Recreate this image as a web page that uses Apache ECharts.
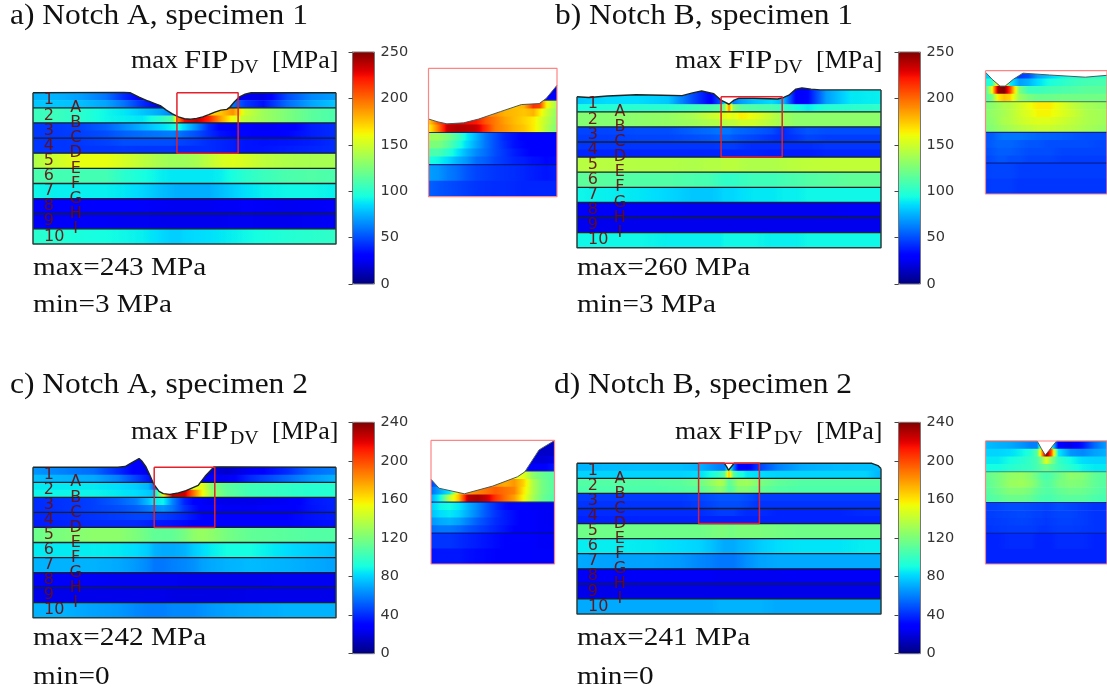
<!DOCTYPE html>
<html><head><meta charset="utf-8">
<style>html,body{margin:0;padding:0;background:#fff}#c{width:1107px;height:693px}</style>
<script src="https://cdn.jsdelivr.net/npm/echarts@6/dist/echarts.min.js"></script>
</head><body><div id="c"></div>
<script>
// ---------- data: stress values in MPa, x in % of specimen width, y in layer thicknesses ----------
const titles = ['a) Notch A, specimen 1','b) Notch B, specimen 1','c) Notch A, specimen 2','d) Notch B, specimen 2'];
const maxLabels = ['max=243 MPa','max=260 MPa','max=242 MPa','max=241 MPa'];
const minLabels = ['min=3 MPa','min=3 MPa','min=0','min=0'];
const scaleMax = [250,250,240,240];
const scaleStep = [50,50,40,40];
const layerNumbers = ['1','2','3','4','5','6','7','8','9','10'];
const interfaceLetters = ['A','B','C','D','E','F','G','H','I'];
const layerBoundaries = [9,8,7,6,5,4,3,2,1];
const mainEdges = [10.8,9.5,9,8.5,8,7.5,7,6.5,6,5,4,3,2,1,0];
const insetEdges = [10,9.75,9.5,9.25,9,8.75,8.5,8.25,8,7.75,7.5,7.25,7,6.5,6];

const surfaceA = [[0,10],[30,10.02],[32,10],[35,9.7],[38,9.45],[40,9.3],[42,9.15],[44,8.85],[46,8.6],[48,8.4],[50,8.28],[52,8.25],[54,8.3],[56,8.4],[58,8.55],[60,8.72],[62,8.85],[64,8.9],[65,9.05],[66.5,9.4],[68,9.7],[70,9.9],[72,10],[100,10]];
const surfaceB = [[0,10],[4,9.95],[10,10.05],[19.5,10.13],[28,10.1],[34.6,10.07],[38,10.25],[41,10.38],[45,10.2],[47.5,9.75],[50,9.5],[51.5,9.75],[53.3,9.9],[58,9.9],[66,9.85],[68,9.95],[69.7,10.1],[72,10.5],[74,10.58],[77,10.5],[80,10.45],[100,10.45]];
const surfaceC = [[0,10],[28,10],[30.4,10.05],[32.5,10.3],[35,10.58],[36,10.4],[37.3,10.02],[38.5,9.5],[39.8,8.9],[41.6,8.4],[43,8.25],[45.2,8.2],[48,8.3],[50.5,8.45],[54.5,8.8],[56.8,9.4],[59.7,10.02],[62,10.03],[100,10]];
const surfaceD = [[0,10],[44,10],[48.5,10],[49.3,9.75],[49.84,9.54],[50.3,9.6],[51.7,10],[97,10],[99,9.85],[100,9.65]];
const insetSurfaceA = [[47.5,8.42],[49,8.33],[50.4,8.27],[53,8.3],[55.4,8.42],[58.8,8.65],[62.1,8.87],[64.9,8.9],[66,9.06],[67.7,9.47]];
const insetSurfaceB = [[47.4,9.95],[48.5,9.72],[49.8,9.5],[50.65,9.5],[52,9.72],[53.6,9.92],[58,9.86],[63.9,9.79],[67.5,9.85]];
const insetSurfaceC = [[40,8.74],[41.3,8.45],[45.4,8.27],[50,8.52],[54,8.82],[55.2,8.98],[57.5,9.69],[60,9.99]];
const insetSurfaceD = [[40,10],[48.5,10],[49.2,9.75],[49.84,9.54],[50.5,9.7],[51.7,10],[60,10]];

const zoomBoxA = [47.5,67.7,6,10];
const zoomBoxB = [47.4,67.5,6,10];
const zoomBoxC = [40,60,6,10];
const zoomBoxD = [40,60,6,10];

const colsA = [0,8,16,24,30,36,42,46,48,50,54,58,62,66,70,76,84,92,100];
const fieldA = [
[75,75,70,60,42,28,22,20,20,20,20,20,20,20,25,22,50,65,70],
[80,80,78,72,60,42,28,22,22,22,22,22,22,60,45,35,58,72,80],
[105,105,100,92,88,80,72,62,62,62,100,170,175,190,150,135,125,115,110],
[105,105,100,92,90,88,100,112,195,225,235,218,185,158,145,135,125,115,110],
[45,45,48,55,65,75,85,92,95,85,65,42,30,25,28,25,28,38,42],
[45,45,47,50,55,58,60,62,60,56,50,42,35,32,32,30,32,38,42],
[44,44,45,47,50,50,50,50,48,47,45,42,40,38,36,35,36,38,42],
[44,44,44,44,45,44,44,44,42,42,42,42,40,38,36,36,38,40,42],
[140,150,158,158,152,145,138,135,135,135,138,145,152,155,152,145,140,138,138],
[110,108,108,108,100,95,90,88,88,88,88,88,90,95,100,105,110,112,110],
[92,90,90,90,88,84,78,75,74,74,74,74,78,82,86,90,92,92,90],
[28,28,28,28,28,27,26,25,25,25,25,25,26,26,27,26,25,26,27],
[26,26,26,26,25,25,24,24,24,24,24,24,24,25,25,24,24,25,26],
[100,98,95,94,92,90,85,82,82,84,85,86,88,90,92,95,98,100,102]];

const colsB = [0,10,20,30,38,44,47,48.5,50,51.5,54,58,64,68,72,76,82,90,100];
const fieldB = [
[80,85,85,80,50,30,50,85,120,60,70,78,85,75,30,32,70,88,90],
[95,98,100,100,105,110,115,125,190,130,115,112,110,105,95,90,98,100,102],
[128,128,130,132,138,148,152,155,160,155,165,158,145,135,130,130,130,130,130],
[128,128,130,132,135,140,142,142,145,145,150,150,142,135,130,130,130,130,130],
[48,48,50,50,55,58,60,60,60,58,56,54,50,42,48,52,50,50,50],
[46,46,48,48,50,52,54,54,54,52,50,48,44,42,44,48,46,46,46],
[44,44,44,44,44,44,45,46,46,46,44,42,42,42,42,42,44,44,44],
[40,40,40,40,40,40,40,40,40,40,40,40,38,38,38,38,40,40,40],
[143,143,142,142,140,142,142,144,144,144,142,140,140,142,144,145,146,146,146],
[116,114,112,112,110,108,104,102,102,102,104,106,106,108,110,112,114,116,116],
[92,90,88,84,80,80,82,84,84,84,86,88,88,90,90,92,92,92,92],
[26,26,26,26,25,25,25,25,25,25,25,25,25,25,25,25,25,26,26],
[24,24,24,24,24,24,24,24,24,24,24,24,24,24,24,24,24,24,24],
[92,92,92,90,90,90,90,92,92,92,92,92,90,90,90,92,92,92,92]];

const colsC = [0,10,20,28,34,38,40,43,46,50,53,56,59,64,72,84,92,100];
const fieldC = [
[65,60,55,40,28,20,20,20,20,20,20,20,20,16,25,40,55,60],
[75,72,70,60,45,35,30,25,25,25,25,25,25,25,40,55,65,72],
[85,85,85,82,78,72,55,60,60,60,150,150,122,110,102,98,95,95],
[88,88,88,85,82,78,75,150,226,225,190,155,128,112,102,98,95,95],
[40,42,45,52,60,75,85,88,62,38,30,25,22,22,22,25,35,38],
[40,42,45,48,52,58,62,65,58,42,34,28,26,25,25,28,34,38],
[38,40,42,44,46,46,45,44,42,38,34,30,28,27,28,30,34,36],
[36,38,40,40,40,38,36,35,34,32,30,28,28,28,28,30,32,34],
[115,120,125,125,120,115,112,112,112,118,125,128,125,118,112,110,108,108],
[85,85,86,85,82,78,72,70,70,72,78,82,86,90,90,82,78,75],
[72,72,72,70,66,62,58,58,60,62,64,68,70,72,74,72,70,68],
[25,25,25,24,24,24,24,24,24,23,23,23,23,23,23,24,24,24],
[22,22,22,22,22,22,22,22,21,21,21,21,21,21,22,22,22,22],
[72,72,68,66,62,60,60,60,62,62,62,64,66,68,70,72,72,72]];

const colsD = [0,12,24,34,40,44,47,48.5,50,51.5,53,56,60,66,74,86,95,100];
const fieldD = [
[72,74,75,75,72,65,60,60,100,60,30,25,45,60,70,74,75,75],
[80,80,80,80,82,90,100,110,170,110,95,85,82,80,80,80,80,72],
[108,108,108,110,115,125,135,128,110,118,128,130,120,112,108,108,108,108],
[106,106,106,108,110,118,125,120,108,112,122,122,114,108,106,106,106,106],
[44,44,44,44,46,48,50,50,50,50,50,48,44,44,44,44,44,44],
[42,42,42,42,44,46,48,48,48,48,48,46,42,42,42,42,42,42],
[40,40,40,40,40,42,44,44,44,44,42,40,40,38,38,38,40,40],
[38,38,38,38,38,38,38,38,38,38,38,38,38,38,38,38,38,38],
[116,116,116,116,116,118,120,120,118,118,120,120,120,118,116,116,116,116],
[86,86,85,82,80,76,72,70,70,70,72,74,78,82,84,84,86,86],
[70,68,68,66,62,60,58,58,58,58,60,64,68,70,70,70,70,70],
[25,25,25,25,25,25,24,24,24,24,24,24,24,24,25,25,25,25],
[22,22,22,22,22,22,22,22,22,22,22,22,22,22,22,22,22,22],
[70,70,70,70,70,70,72,72,72,72,72,72,72,70,70,70,70,70]];

const insetColsA = [47.5,49,50.5,52,53.5,55,56.5,58,59.5,61,62.5,64,65,66,67.7];
const insetFieldA = [
[20,20,20,20,20,20,20,20,20,20,20,20,20,20,18],
[20,20,20,20,20,20,20,20,20,20,20,20,20,20,18],
[20,20,20,20,20,20,20,20,20,20,20,20,20,20,20],
[25,25,25,25,25,25,25,25,25,25,25,25,25,28,30],
[170,170,170,170,170,170,170,170,172,175,180,215,210,165,135],
[185,185,185,185,185,185,185,190,180,178,175,180,165,150,130],
[170,205,225,228,225,222,205,195,185,178,172,165,155,145,128],
[160,195,235,240,238,235,215,195,188,180,175,165,155,142,125],
[135,135,125,110,90,75,60,50,40,35,30,28,28,28,30],
[125,125,115,100,85,72,60,50,42,35,32,30,28,28,30],
[110,110,100,88,75,65,58,50,44,38,34,30,30,30,32],
[95,92,85,75,68,58,54,48,44,40,38,35,34,32,34],
[70,68,62,58,52,48,46,44,43,42,40,38,37,36,38],
[55,52,50,48,46,44,43,42,42,41,40,40,40,40,40]];

const insetColsB = [47.4,48.5,49.5,50.5,51.5,53,54.5,56,58,60,62,64,67.5];
const insetFieldB = [
[80,85,90,90,70,45,50,70,82,92,95,100,100],
[95,100,180,190,90,70,75,85,95,100,105,108,110],
[105,160,245,250,210,125,105,105,108,110,112,115,115],
[112,125,165,175,170,135,125,120,120,122,122,122,122],
[125,130,135,140,142,150,158,165,165,155,145,138,132],
[128,132,135,138,142,150,155,162,162,155,148,140,135],
[128,130,135,140,142,148,152,155,155,150,145,140,135],
[125,128,132,135,138,142,145,148,148,145,142,138,132],
[52,54,58,60,60,60,58,56,55,54,52,50,50],
[52,54,56,56,56,54,52,52,50,50,50,50,48],
[50,52,54,54,54,52,50,50,50,48,48,48,48],
[48,50,52,52,50,50,48,48,48,46,46,46,46],
[46,48,48,48,48,46,46,46,46,46,46,46,46],
[44,46,46,46,46,44,44,44,44,44,44,44,44]];

const insetColsC = [40,41.5,43,44.5,46,47.5,49,50.5,52,53.5,55,56.5,58,60];
const insetFieldC = [
[20,20,20,20,20,20,20,20,20,20,20,18,15,15],
[20,20,20,20,20,20,20,20,20,20,20,18,15,15],
[20,20,20,20,20,20,20,20,20,20,20,20,18,22],
[40,40,40,40,40,40,40,40,40,40,40,25,28,35],
[150,150,150,150,150,150,150,150,150,150,150,125,115,108],
[45,60,170,170,170,170,170,180,175,180,165,135,118,108],
[55,70,85,170,180,185,190,195,190,185,160,135,118,108],
[70,90,140,170,228,232,225,205,190,178,155,132,116,106],
[78,88,90,85,72,62,50,40,32,28,26,25,24,24],
[75,82,85,80,70,60,50,42,36,32,28,26,25,24],
[65,70,72,68,60,52,46,40,36,32,28,26,25,24],
[55,58,58,55,50,46,42,38,34,30,28,26,25,25],
[42,42,42,40,38,36,34,32,30,28,27,26,25,25],
[34,35,35,35,33,32,31,30,28,27,27,26,26,26]];

const insetColsD = [40,42,44,46,47.5,48.5,49.2,50,50.8,52,54,56,58,60];
const insetFieldD = [
[75,72,70,65,60,60,120,150,100,28,22,35,55,68],
[80,80,82,88,95,110,170,240,200,85,65,62,68,72],
[85,85,90,95,100,105,120,150,125,100,90,82,80,80],
[90,90,95,98,100,105,110,115,110,102,95,88,85,85],
[112,118,126,128,122,115,108,105,108,115,125,122,112,108],
[110,118,128,130,125,118,112,108,110,118,122,120,112,108],
[108,115,122,122,118,112,110,108,108,112,116,115,110,106],
[106,110,115,115,112,108,106,105,105,108,110,110,106,104],
[45,46,48,48,47,46,46,45,46,48,46,44,42,42],
[44,45,46,47,46,45,45,44,45,46,46,44,42,42],
[43,44,45,46,45,44,44,43,44,45,45,44,42,42],
[42,43,44,44,44,43,42,42,43,44,44,43,42,42],
[38,38,40,40,40,38,38,38,38,40,40,40,38,38],
[38,38,38,38,38,38,38,38,38,38,38,38,38,38]];

// ---------- layout (pixels) ----------
const mainBox = [[33,336,92.7,244],[577,881,96.7,247.7],[33,336,467.3,617.7],[577,881,463.3,614]];
const insetBox = [[428.5,557,68.3,196.7],[985.5,1107,70.7,194],[431,554.5,440.3,564],[985.5,1107,441,564]];
const barBox = [[352.5,374.5,52,284],[898.5,920.5,52,284],[352.5,374.5,422.3,653.7],[898.5,920.5,422.3,653.7]];
const textOffsetX = [0,544,0,544];
const textOffsetY = [0,0,370.5,370.5];
const titleXY = [[10,16],[555,16],[10,385],[554,385]];

// ---------- jet colour scale ----------
function seg(t,pts){for(let i=1;i<pts.length;i++){if(t<=pts[i][0]){const a=pts[i-1],b=pts[i];return a[1]+(b[1]-a[1])*(t-a[0])/(b[0]-a[0]);}}return pts[pts.length-1][1];}
function jet(t){t=Math.max(0,Math.min(1,t));
 const r=seg(t,[[0,0],[.35,0],[.66,1],[.89,1],[1,.5]]),g=seg(t,[[0,0],[.125,0],[.375,1],[.64,1],[.91,0],[1,0]]),b=seg(t,[[0,.5],[.11,1],[.34,1],[.65,0],[1,0]]);
 return 'rgb('+Math.round(r*255)+','+Math.round(g*255)+','+Math.round(b*255)+')';}
const jetList=[];for(let i=0;i<=64;i++)jetList.push(jet(i/64));

const FLD=1,LIN=2,MSK=3,FRM=4,BOX=5,LBL=6;
const grids=[],xAxes=[],yAxes=[],series=[],visualMaps=[],graphics=[];

function addGrid(b,xr,yr){
  const i=grids.length;
  grids.push({left:b[0],width:b[1]-b[0],top:b[2],height:b[3]-b[2],containLabel:false,show:false});
  xAxes.push({type:'value',gridIndex:i,min:xr[0],max:xr[1],show:false,splitLine:{show:false}});
  yAxes.push({type:'value',gridIndex:i,min:yr[0],max:yr[1],show:false,splitLine:{show:false}});
  return i;
}
function fieldSeries(g,cols,edges,rows,vmax){
  const grads=rows.map(r=>{
    const stops=[],x0=cols[0],w=cols[cols.length-1]-x0;
    for(let k=0;k<r.length-1;k++)for(let s=0;s<6;s++){const f=s/6;
      stops.push({offset:(cols[k]+(cols[k+1]-cols[k])*f-x0)/w,color:jet((r[k]+(r[k+1]-r[k])*f)/vmax)});}
    stops.push({offset:1,color:jet(r[r.length-1]/vmax)});
    return new echarts.graphic.LinearGradient(0,0,1,0,stops);
  });
  return {type:'custom',xAxisIndex:g,yAxisIndex:g,z:FLD,silent:true,clip:true,animation:false,
    data:rows.map((r,i)=>[cols[0],edges[i]]),
    renderItem(p,api){const i=p.dataIndex,a=api.coord([cols[0],edges[i]]),b=api.coord([cols[cols.length-1],edges[i+1]]);
      return {type:'rect',shape:{x:a[0],y:a[1],width:b[0]-a[0],height:b[1]-a[1]+.6},style:{fill:grads[i]}};}};
}
function linesSeries(g,xr,ys,colorOf,w){
  return {type:'custom',xAxisIndex:g,yAxisIndex:g,z:LIN,silent:true,clip:true,animation:false,
    data:ys.map(y=>[xr[0],y]),
    renderItem(p,api){const y=ys[p.dataIndex],a=api.coord([xr[0],y]),b=api.coord([xr[1],y]);
      return {type:'line',shape:{x1:a[0],y1:a[1],x2:b[0],y2:b[1]},style:{stroke:colorOf(y),lineWidth:w}};}};
}
function maskSeries(g,surface,color,w){
  return {type:'line',xAxisIndex:g,yAxisIndex:g,z:MSK,silent:true,animation:false,showSymbol:false,smooth:false,clip:true,
    data:surface,lineStyle:{color:color,width:w},areaStyle:{color:'#fff',opacity:1,origin:'end'}};
}
function pathSeries(g,pts,color,w,z){
  return {type:'line',xAxisIndex:g,yAxisIndex:g,z:z,silent:true,animation:false,showSymbol:false,clip:false,data:pts,lineStyle:{color:color,width:w}};
}
function textSeries(g,items,font){
  return {type:'custom',xAxisIndex:g,yAxisIndex:g,z:LBL,silent:true,clip:false,animation:false,
    data:items.map(t=>[t[0],t[1]]),
    renderItem(p,api){const t=items[p.dataIndex],c=api.coord([t[0],t[1]]);
      return {type:'text',x:c[0],y:c[1],style:{text:t[2],font:font,fill:'rgba(105,12,12,.92)',align:'center',verticalAlign:'middle'}};}};
}
function addText(txt,x,y,font,sx,fill){
  graphics.push({type:'text',z:100,x:x,y:y,scaleX:sx,silent:true,style:{text:txt,font:font,fill:fill||'#111',verticalAlign:'middle'}});
}

const panels=[
 {s:surfaceA,c:colsA,f:fieldA,is:insetSurfaceA,ic:insetColsA,if:insetFieldA,z:zoomBoxA},
 {s:surfaceB,c:colsB,f:fieldB,is:insetSurfaceB,ic:insetColsB,if:insetFieldB,z:zoomBoxB},
 {s:surfaceC,c:colsC,f:fieldC,is:insetSurfaceC,ic:insetColsC,if:insetFieldC,z:zoomBoxC},
 {s:surfaceD,c:colsD,f:fieldD,is:insetSurfaceD,ic:insetColsD,if:insetFieldD,z:zoomBoxD}];

panels.forEach((P,i)=>{
  const mb=mainBox[i],unit=(mb[3]-mb[2])/10,vmax=scaleMax[i];
  const g=addGrid([mb[0],mb[1],mb[3]-11*unit,mb[3]],[0,100],[0,11]);
  series.push(fieldSeries(g,P.c,mainEdges,P.f,vmax));
  series.push(linesSeries(g,[0,100],layerBoundaries,()=>'#14202a',1.3));
  series.push(maskSeries(g,P.s,'#1c2626',1.4));
  const first=P.s[0],last=P.s[P.s.length-1];
  series.push(pathSeries(g,[[0,first[1]],[0,0],[100,0],[100,last[1]]],'#2a3c3c',1.5,FRM));
  series.push(pathSeries(g,[[P.z[0],P.z[3]],[P.z[1],P.z[3]],[P.z[1],P.z[2]],[P.z[0],P.z[2]],[P.z[0],P.z[3]]],'#e3202c',1.5,BOX));
  series.push(textSeries(g,layerNumbers.map((t,k)=>[t==='10'?7:5.2,9.5-k,t]),'16px "DejaVu Sans"'));
  series.push(textSeries(g,interfaceLetters.map((t,k)=>[14.1,9-k,t]),'16px "DejaVu Sans"'));
  const g2=addGrid(insetBox[i],[P.z[0],P.z[1]],[P.z[2],P.z[3]]);
  series.push(fieldSeries(g2,P.ic,insetEdges,P.if,vmax));
  series.push(linesSeries(g2,[P.z[0],P.z[1]],[9,8,7],y=>y===9?'rgba(70,90,90,.7)':'rgba(0,20,130,.85)',1.2));
  series.push(maskSeries(g2,P.is,'#4a5a5a',1));
  series.push(pathSeries(g2,[[P.z[0],P.z[3]],[P.z[1],P.z[3]],[P.z[1],P.z[2]],[P.z[0],P.z[2]],[P.z[0],P.z[3]]],'#ff8484',1.2,BOX));
  const bb=barBox[i];
  visualMaps.push({type:'continuous',seriesIndex:[],min:0,max:vmax,left:bb[0],top:bb[2],itemWidth:bb[1]-bb[0],itemHeight:bb[3]-bb[2],
    padding:0,calculable:false,hoverLink:false,text:null,showLabel:false,inRange:{color:jetList},outOfRange:{color:jetList}});
  const g3=grids.length;
  grids.push({left:bb[0],width:bb[1]-bb[0],top:bb[2],height:bb[3]-bb[2],containLabel:false,show:true,backgroundColor:'transparent',borderColor:'#777',borderWidth:1,z:8});
  xAxes.push({type:'value',gridIndex:g3,min:0,max:1,show:false});
  yAxes.push({type:'value',gridIndex:g3,min:0,max:vmax,interval:scaleStep[i],position:'right',z:9,
    axisLine:{show:true,lineStyle:{color:'#777',width:1}},axisTick:{show:true,inside:true,length:4,lineStyle:{color:'#444'}},splitLine:{show:false},
    axisLabel:{show:true,color:'#333',fontFamily:'DejaVu Sans',fontSize:14.5,margin:6}});
  addText(titles[i],titleXY[i][0],titleXY[i][1],'29px "Liberation Serif"',1.085);
  const ox=textOffsetX[i],oy=textOffsetY[i];
  addText('max',131+ox,61.5+oy,'26px "Liberation Serif"',1.05);
  addText('FIP',184+ox,61.5+oy,'26px "Liberation Serif"',1.18);
  addText('DV',230+ox,68.5+oy,'18px "Liberation Serif"',1.1);
  addText('[MPa]',272+ox,61.5+oy,'26px "Liberation Serif"',1);
  addText(maxLabels[i],mb[0],i<2?268.5:638.5,'26px "Liberation Serif"',1.124);
  addText(minLabels[i],mb[0],i<2?305.5:677,'26px "Liberation Serif"',1.124);
});

const chart=echarts.init(document.getElementById('c'),null,{renderer:'canvas',width:1107,height:693});
chart.setOption({animation:false,backgroundColor:'#fff',grid:grids,xAxis:xAxes,yAxis:yAxes,visualMap:visualMaps,series:series,graphic:{elements:graphics}});
</script></body></html>
